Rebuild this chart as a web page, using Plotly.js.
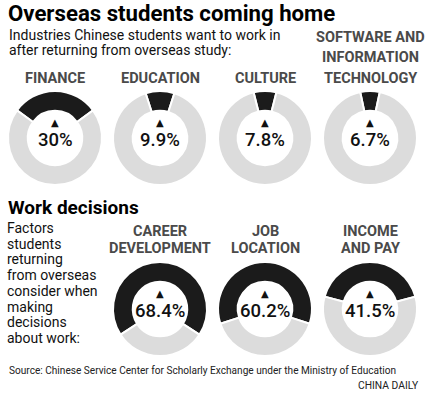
<!DOCTYPE html>
<html>
<head>
<meta charset="utf-8">
<script src="https://cdn.plot.ly/plotly-3.0.1.min.js"></script>
<style>html,body{margin:0;padding:0;background:#fff;}#chart{width:435px;height:393px;}</style>
</head>
<body>
<div id="chart"></div>
<script>
// Data
const industryLabels = [["FINANCE"], ["EDUCATION"], ["CULTURE"], ["SOFTWARE AND", "INFORMATION", "TECHNOLOGY"]];
const industryValues = [30, 9.9, 7.8, 6.7];
const industryText = ["30%", "9.9%", "7.8%", "6.7%"];
const factorLabels = [["CAREER", "DEVELOPMENT"], ["JOB", "LOCATION"], ["INCOME", "AND PAY"]];
const factorValues = [68.4, 60.2, 41.5];
const factorText = ["68.4%", "60.2%", "41.5%"];
const subtitleLines = ["Industries Chinese students want to work in", "after returning from overseas study:"];
const factorsNote = ["Factors", "students", "returning", "from overseas", "consider when", "making", "decisions", "about work:"];

const W = 435, H = 393;
const px = x => x / W;
const py = y => 1 - y / H;

const DARK = "#1b1b1b", LIGHT = "#dcdcdc", LABEL = "#4a4a4a";
const FONT = "Roboto, 'Liberation Sans', Arial, sans-serif";

const traces = [];
const annotations = [];

function txt(x, y, text, size, opts) {
  opts = opts || {};
  annotations.push({
    xref: "paper", yref: "paper", x: px(x), y: py(y),
    xanchor: opts.anchor || "left", yanchor: "middle",
    text: text, showarrow: false,
    font: {family: opts.family || FONT, size: size, color: opts.color || "#111", weight: opts.weight || 400}
  });
}

function addDonut(cx, cy, r, value, pctText, labelLines, lastLabelY, spacing) {
  traces.push({
    type: "pie",
    values: [value, 100 - value],
    sort: false,
    direction: "clockwise",
    rotation: -value * 1.8,
    hole: 0.58,
    marker: {colors: [DARK, LIGHT], line: {color: "#ffffff", width: 2}},
    textinfo: "none",
    hoverinfo: "none",
    showlegend: false,
    domain: {x: [px(cx - r), px(cx + r)], y: [py(cy + r), py(cy - r)]}
  });
  txt(cx, cy + 2, pctText, 18.5, {anchor: "center", weight: 500, color: "#111"});
  txt(cx, cy - 16, "▲", 10, {anchor: "center", family: "DejaVu Sans", color: "#111"});
  const n = labelLines.length;
  labelLines.forEach((line, i) => {
    txt(cx, lastLabelY - (n - 1 - i) * spacing, line, 14.5, {anchor: "center", weight: 700, color: LABEL});
  });
}

const topX = [55, 160, 265, 370];
for (let i = 0; i < industryValues.length; i++) {
  addDonut(topX[i], 138, 47, industryValues[i], industryText[i], industryLabels[i], 78, 20);
}
const botX = [160, 265, 370];
for (let i = 0; i < factorValues.length; i++) {
  addDonut(botX[i], 309, 47, factorValues[i], factorText[i], factorLabels[i], 248, 17);
}

// Text blocks
txt(6, 13, "Overseas students coming home", 22.2, {weight: 700, color: "#000"});
subtitleLines.forEach((line, i) => txt(7, 35 + i * 15, line, 14, {color: "#111"}));
txt(6, 208, "Work decisions", 19, {weight: 700, color: "#000"});
factorsNote.forEach((line, i) => txt(5, 228 + i * 15.7, line, 14, {color: "#111"}));
txt(7, 370, "Source: Chinese Service Center for Scholarly Exchange under the Ministry of Education", 10.1, {color: "#222"});
txt(421, 385, "CHINA DAILY", 10.3, {anchor: "right", color: "#222"});

const layout = {
  width: W, height: H,
  margin: {l: 0, r: 0, t: 0, b: 0},
  paper_bgcolor: "#fff", plot_bgcolor: "#fff",
  showlegend: false,
  annotations: annotations
};

Plotly.newPlot("chart", traces, layout, {displayModeBar: false, staticPlot: true});
</script>
</body>
</html>
